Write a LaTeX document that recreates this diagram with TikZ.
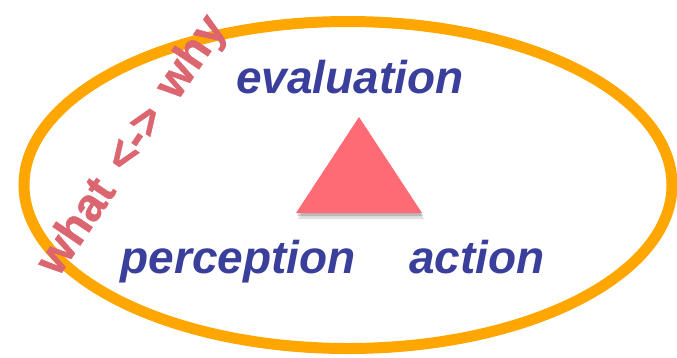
\documentclass[tikz,border=0pt]{standalone}
\usepackage{fontspec}
\setmainfont{Liberation Sans}
\newfontfamily\sidefont[FakeBold=1]{Liberation Sans Bold}
\definecolor{ringorange}{RGB}{255,166,0}
\definecolor{labelblue}{RGB}{58,63,156}
\definecolor{tripink}{RGB}{255,107,117}
\definecolor{sidepink}{RGB}{220,102,112}
\begin{document}
\begin{tikzpicture}[x=1pt,y=-1pt,
  ring/.style={draw=ringorange,line width=11pt},
  bigword/.style={text=labelblue,font=\fontsize{46}{50}\selectfont\bfseries\itshape,inner sep=0pt,anchor=base},
  sideword/.style={text=sidepink,font=\sidefont\fontsize{46}{50}\selectfont,inner sep=0pt,rotate=56}]
\useasboundingbox (0,0) rectangle (677,357);
\draw[ring] (348,185) ellipse [x radius=324pt, y radius=163.5pt];
% triangle shadow
\fill[black,opacity=0.12] (361,123) -- (298,219) -- (424,219) -- cycle;
\fill[black,opacity=0.18] (360,120) -- (297,216) -- (423,216) -- cycle;
\fill[tripink] (359,117) -- (296,213) -- (422,213) -- cycle;
\node[bigword] (eval) at (350,93) {evaluation};
\node[bigword] (perc) at (238,273) {perception};
\node[bigword] (act) at (477,273) {action};
\node[sideword] (ww) at (133,146) {what\hspace{0.42em}<->\hspace{0.42em}why};
\end{tikzpicture}
\end{document}
